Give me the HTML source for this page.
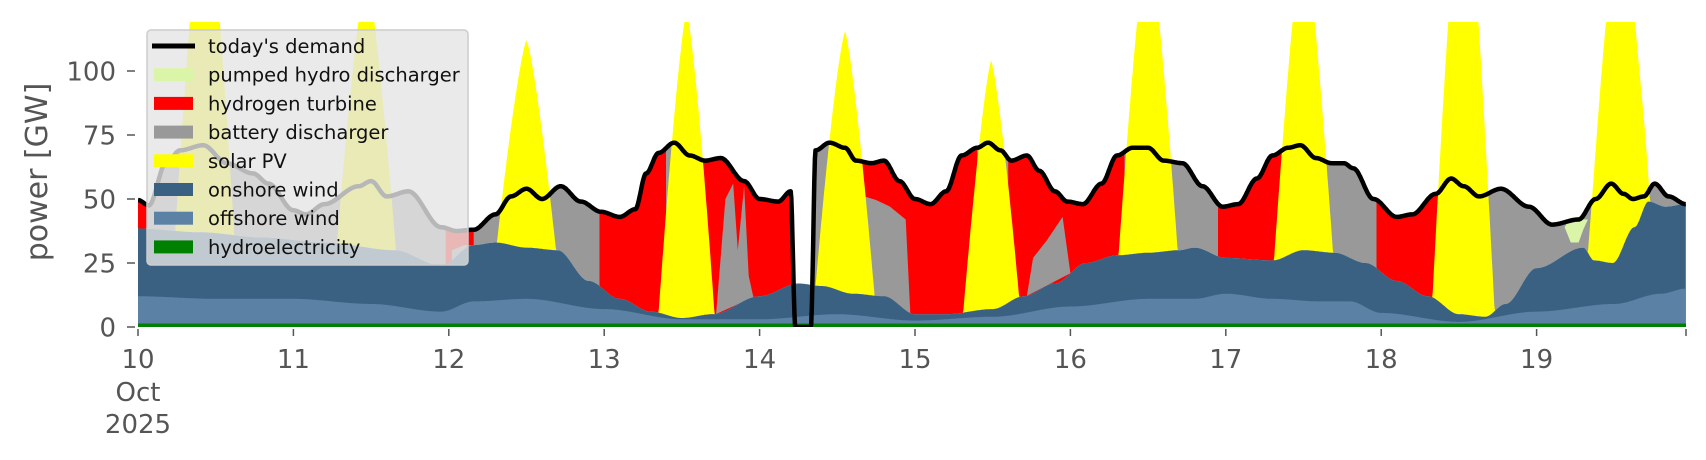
<!DOCTYPE html>
<html><head><meta charset="utf-8">
<style>
html,body{margin:0;padding:0;background:#fff;}
svg{display:block;font-family:"DejaVu Sans","Liberation Sans",sans-serif;}
</style></head>
<body>
<svg id="c" width="1706" height="460" viewBox="0 0 1706 460" xmlns="http://www.w3.org/2000/svg"></svg>
<script>
const X=t=>138+(t-10)*155.4, Y=v=>327-v*2.56;
function sm(k,t){if(t<=k[0][0])return k[0][1];for(let i=1;i<k.length;i++){if(t<=k[i][0]){const a=k[i-1],b=k[i];let f=(t-a[0])/(b[0]-a[0]);f=f*f*(3-2*f);return a[1]+(b[1]-a[1])*f;}}return k[k.length-1][1];}
const D=[[10,49.6],[10.07,47.5],[10.18,64],[10.27,69],[10.42,71],[10.57,64],[10.74,60],[10.84,56],[11,45.6],[11.08,44],[11.2,48],[11.42,55],[11.5,57],[11.6,51],[11.74,53],[11.95,39],[12.05,37.5],[12.16,38],[12.3,44],[12.4,51],[12.5,54],[12.6,50],[12.72,55],[12.85,49],[12.98,45],[13.1,43],[13.2,46],[13.27,60],[13.35,68],[13.45,72],[13.55,67],[13.65,65],[13.75,66],[13.9,57],[14.0,50],[14.12,49],[14.2,53],[14.23,0],[14.33,0],[14.36,69],[14.45,72],[14.55,70],[14.62,65],[14.72,64],[14.8,65],[14.9,57],[15.0,50],[15.1,48],[15.2,53],[15.3,67],[15.4,70],[15.47,72],[15.55,69],[15.62,65],[15.72,67],[15.8,61],[15.9,53],[15.98,49],[16.08,48],[16.2,56],[16.3,67],[16.4,70],[16.5,70],[16.6,65],[16.72,64],[16.85,55],[16.98,47],[17.08,48],[17.2,58],[17.3,67],[17.4,70],[17.48,71],[17.58,66],[17.68,64],[17.76,64],[17.82,62],[17.95,50],[18.1,43],[18.2,44],[18.35,52],[18.45,58],[18.53,55],[18.63,51],[18.77,54],[18.95,47],[19.1,40],[19.27,42],[19.38,50],[19.48,56],[19.56,52],[19.62,50],[19.69,51],[19.76,56],[19.85,51],[19.96,48]];
const ON=[[10,38.5],[10.4,37],[10.8,35],[11.2,33],[11.65,30],[11.95,24],[12.16,32],[12.3,33],[12.5,31],[12.7,30],[12.9,18],[13.1,11],[13.3,6],[13.5,3.5],[13.7,5],[14.0,12],[14.25,17],[14.4,16],[14.6,13],[14.8,12],[15.0,5],[15.2,5],[15.5,7],[15.7,12],[15.9,17],[16.1,25],[16.3,28],[16.5,29],[16.7,30],[16.8,31],[17.0,27],[17.3,26],[17.5,30],[17.7,29],[17.9,25],[18.1,18],[18.3,12],[18.5,5],[18.67,4],[18.8,9],[19.0,23],[19.3,31],[19.37,26],[19.49,25],[19.63,39],[19.72,49],[19.83,47],[19.96,48]];
const OFF=[[10,12],[10.5,11],[11,11],[11.5,9],[11.95,6],[12.16,10],[12.5,11],[13,7],[13.5,3],[14,3],[14.5,5],[15,2.5],[15.5,4],[16,8],[16.5,11],[16.8,11],[17,13],[17.3,11],[17.6,10],[17.8,10],[18,5.5],[18.5,2],[19,6],[19.5,9],[19.8,13],[19.96,15]];
const SOL=[[10.43,141,.19],[11.47,108,.19],[12.5,81,.19],[13.53,120,.18],[14.55,102,.19],[15.49,97,.18],[16.5,125,.19],[17.5,125,.19],[18.53,187,.2],[19.53,139,.2]];
function S(t){let s=0;for(const [c,a,h] of SOL){const u=Math.abs(t-c)/h;if(u<1)s+=a*(1-Math.pow(u,1.3));}return s;}
const T0=10,T1=19.96,dt=0.004;
function band(a,b,lo,hi){let top=[],bot=[];for(let t=a;t<=b+1e-9;t+=dt){const l=lo(t),h=Math.max(l,hi(t));top.push(X(t).toFixed(1)+','+Y(Math.min(h,119.5)).toFixed(1));bot.push(X(t).toFixed(1)+','+Y(l).toFixed(1));}return top.concat(bot.reverse()).join(' ');}
const won=t=>sm(ON,t),dem=t=>sm(D,t);
let g='';
g+='<defs><clipPath id="cp"><rect x="138" y="22" width="1548" height="305"/></clipPath></defs><g clip-path="url(#cp)">';
g+=`<polygon fill="#999999" points="${band(T0,T1,won,dem)}"/>`;
for(const [a,b] of [[10,10.06],[11.98,12.16],[12.97,13.4],[13.6,14.25],[14.62,15.4],[15.6,16.35],[16.95,17.4],[17.97,18.42]])
 g+=`<polygon fill="#ff0000" points="${band(a,b,won,dem)}"/>`;
const wedge=(pts)=>`<polygon fill="#999999" points="${pts.map(p=>X(p[0]).toFixed(1)+','+Y(p[1]===null?won(p[0]):p[1]).toFixed(1)).join(' ')}"/>`;
g+=wedge([[13.72,null],[13.78,50],[13.83,56],[13.86,30],[13.9,55],[13.93,20],[13.96,null]]);
g+=wedge([[14.62,null],[14.62,52],[14.75,49.6],[14.84,47],[14.94,42],[14.97,null]]);
g+=wedge([[15.72,null],[15.76,27],[15.85,34],[15.95,43],[16.0,null]]);
g+=wedge([[12.02,null],[12.02,30],[12.1,32],[12.16,null]]);
g+=`<polygon fill="#dbf5a8" points="${[[19.18,39],[19.22,33],[19.27,33],[19.3,38],[19.33,42],[19.27,42],[19.2,41]].map(p=>X(p[0]).toFixed(1)+','+Y(p[1]).toFixed(1)).join(' ')}"/>`;
g+=`<polygon fill="#ffff00" points="${band(T0,T1,won,t=>won(t)+S(t))}"/>`;
g+=`<polygon fill="#3b6182" points="${band(T0,T1,()=>0,won)}"/>`;
g+=`<polygon fill="#5b82a5" points="${band(T0,T1,()=>0,t=>sm(OFF,t))}"/>`;
g+=`<rect x="138" y="323.5" width="1548" height="3.5" fill="#008000"/>`;
let dp=[];for(let t=T0;t<=T1+1e-9;t+=dt)dp.push(X(t).toFixed(1)+','+Y(dem(t)).toFixed(1));
g+=`<polyline fill="none" stroke="#000" stroke-width="4.5" stroke-linejoin="round" points="${dp.join(' ')}"/>`;
g+='</g>';
const yl=[[0,'0'],[25,'25'],[50,'50'],[75,'75'],[100,'100']];
for(const [v,s] of yl){g+=`<line x1="127" x2="135" y1="${Y(v)}" y2="${Y(v)}" stroke="#555" stroke-width="1.5"/><text x="116" y="${Y(v)+9.5}" font-size="26" fill="#555" text-anchor="end">${s}</text>`;}
g+=`<text transform="translate(47,172) rotate(-90)" font-size="30" fill="#555" text-anchor="middle">power [GW]</text>`;
for(let d=10;d<=20;d++){const x=Math.min(X(d),1686);g+=`<line x1="${x}" x2="${x}" y1="329" y2="336" stroke="#555" stroke-width="1.5"/>`;if(d<20)g+=`<text x="${X(d)}" y="368" font-size="26" fill="#555" text-anchor="middle">${d}</text>`;}
g+=`<text x="138" y="401" font-size="26" fill="#555" text-anchor="middle">Oct</text><text x="138" y="433" font-size="26" fill="#555" text-anchor="middle">2025</text>`;
g+=`<rect x="147" y="30" width="321" height="235" rx="4" fill="#e5e5e5" fill-opacity="0.8" stroke="#cccccc" stroke-width="1.5"/>`;
const L=[['line','#000',"today's demand"],['r','#dbf5a8','pumped hydro discharger'],['r','#ff0000','hydrogen turbine'],['r','#999999','battery discharger'],['r','#ffff00','solar PV'],['r','#3b6182','onshore wind'],['r','#5b82a5','offshore wind'],['r','#008000','hydroelectricity']];
L.forEach((e,i)=>{const cy=46+i*28.7;if(e[0]=='line')g+=`<line x1="152" x2="195" y1="${cy}" y2="${cy}" stroke="#000" stroke-width="5"/>`;else g+=`<rect x="154" y="${cy-6.5}" width="39" height="13" fill="${e[1]}"/>`;g+=`<text x="208" y="${cy+7}" font-size="19.5" fill="#111">${e[2]}</text>`;});
document.getElementById('c').innerHTML=g;
</script>
</body></html>
